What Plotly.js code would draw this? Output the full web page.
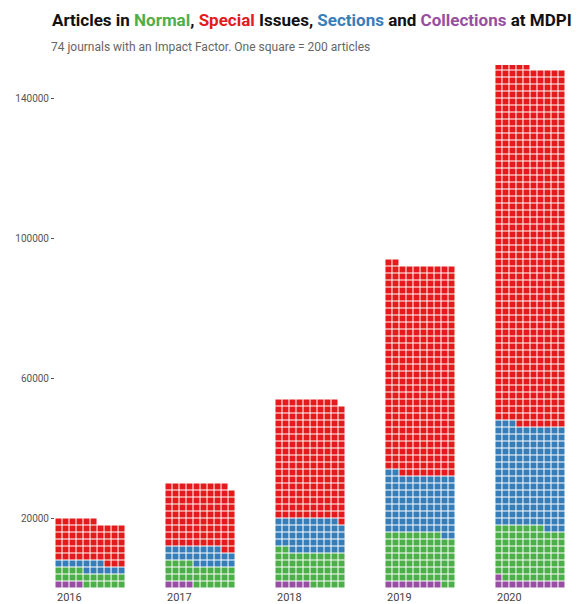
<!DOCTYPE html>
<html>
<head>
<meta charset="utf-8">
<script src="https://cdn.plot.ly/plotly-3.0.1.min.js"></script>
<style>html,body{margin:0;padding:0;background:#fff;}#chart{width:578px;height:604px;}</style>
</head>
<body>
<div id="chart"></div>
<script>
// Data (articles; one square = 200 articles, 10 squares per row)
const years = ['2016', '2017', '2018', '2019', '2020'];
const collections = [800, 800, 1000, 1600, 2200];
const normal = [4000, 6000, 9400, 14000, 15200];
const sections = [2600, 4800, 9400, 16800, 29200];
const special = [11800, 18200, 34000, 60000, 102400];
const yTicks = [20000, 60000, 100000, 140000];

const seriesNames = ['Collections', 'Normal', 'Sections', 'Special Issues'];
const seriesData = [collections, normal, sections, special];
const seriesColors = ['#984ea3', '#4daf4a', '#377eb8', '#e41a1c'];

const perSquare = 200;
const perRow = 10;
const yearGap = 15.7;

const traces = seriesNames.map((n, s) => ({
  type: 'scatter', mode: 'markers', name: n, x: [], y: [],
  marker: {symbol: 'square', size: 6, color: seriesColors[s]},
  hoverinfo: 'skip', showlegend: false
}));

years.forEach((yr, i) => {
  let k = 0;
  seriesData.forEach((arr, s) => {
    const nSq = Math.round(arr[i] / perSquare);
    for (let j = 0; j < nSq; j++, k++) {
      const row = Math.floor(k / perRow);
      const col = k % perRow;
      traces[s].x.push(i * yearGap + col);
      traces[s].y.push((row + 0.5) * perRow * perSquare);
    }
  });
});

const annotations = years.map((yr, i) => ({
  text: yr, x: i * yearGap - 0.5, xref: 'x', xanchor: 'left',
  y: 0, yref: 'paper', yanchor: 'top', yshift: -1, height: 12, valign: 'middle', showarrow: false,
  font: {family: 'Roboto', size: 11, color: '#444'}
}));
annotations.push({
  text: '74 journals with an Impact Factor. One square = 200 articles',
  xref: 'paper', x: -0.011, xanchor: 'left', yref: 'paper', y: 1 + 18 / 523, yanchor: 'middle',
  showarrow: false, font: {family: 'Roboto', size: 12, color: '#666'}
});

const layout = {
  width: 578, height: 604,
  margin: {l: 55, r: 13, t: 65, b: 16},
  paper_bgcolor: '#fff', plot_bgcolor: '#fff',
  title: {
    text: '<b>Articles in <span style="color:#4daf4a">Normal</span>, <span style="color:#e41a1c">Special</span> Issues, <span style="color:#377eb8">Sections</span> and <span style="color:#984ea3">Collections</span> at MDPI</b>',
    x: 52 / 578, xanchor: 'left', xref: 'container',
    y: 1 - 20 / 604, yanchor: 'middle', yref: 'container',
    font: {family: 'Roboto', size: 17, color: '#111'}
  },
  xaxis: {range: [-0.5, 72.3], showgrid: false, zeroline: false, showticklabels: false, ticks: '', showline: false, fixedrange: true},
  yaxis: {range: [0, 149429], showgrid: false, zeroline: false, showline: false,
    tickvals: yTicks, ticktext: yTicks.map(String), ticks: 'outside', ticklen: 3, tickcolor: '#555', tickwidth: 1,
    tickfont: {family: 'Roboto', size: 10, color: '#555'}, fixedrange: true},
  annotations: annotations,
  showlegend: false
};

Plotly.newPlot('chart', traces, layout, {displayModeBar: false, staticPlot: true});
</script>
</body>
</html>
